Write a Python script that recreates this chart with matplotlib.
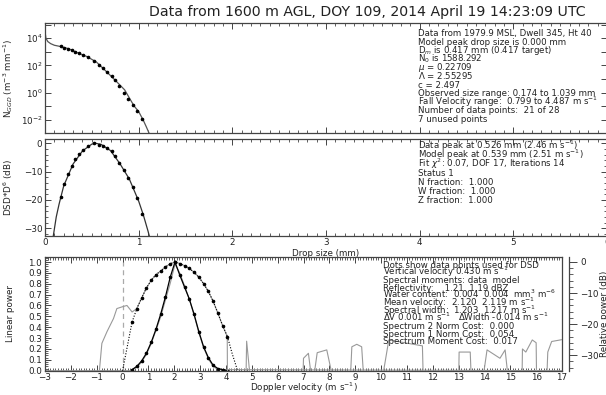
import numpy as np
import matplotlib
matplotlib.use("Agg")
import matplotlib.pyplot as plt
from matplotlib.ticker import MultipleLocator, FixedLocator, NullFormatter, FuncFormatter

# ---------------- data ----------------
# drop sizes (mm) of the data points used for the DSD fit
dsd_d = [0.174, 0.207, 0.249, 0.285, 0.321, 0.363, 0.410, 0.463, 0.526, 0.580,
         0.623, 0.666, 0.712, 0.748, 0.794, 0.844, 0.890, 0.937, 0.987, 1.039]
# log10 of the observed number concentration N(D)
dsd_logn = [3.39, 3.31, 3.24, 3.15, 3.02, 2.90, 2.76, 2.61, 2.34, 2.05,
            1.81, 1.49, 1.20, 0.91, 0.47, -0.01, -0.50, -0.94, -1.36, -1.96]
# DSD*D^6 of the data points (dB, normalised)
dsd_z_db = [-18.8, -14.5, -10.9, -8.0, -5.6, -3.9, -2.4, -0.9, 0.0, -0.6,
            -0.9, -1.8, -2.9, -4.5, -7.1, -9.6, -12.1, -15.3, -19.4, -25.1]

# fitted generalised-gamma model
model_d = [0.0, 0.01, 0.03, 0.06, 0.10, 0.17, 0.25, 0.35, 0.45, 0.55, 0.65,
           0.75, 0.85, 0.95, 1.00, 1.05, 1.08, 1.115]
model_logn = [4.48, 4.00, 3.75, 3.60, 3.48, 3.38, 3.23, 2.92, 2.64, 2.24, 1.58,
              0.90, 0.20, -0.98, -1.40, -2.05, -2.50, -3.05]
model_zd = [0.089, 0.12, 0.15, 0.20, 0.30, 0.40, 0.50, 0.539, 0.60, 0.70, 0.80,
            0.90, 1.00, 1.05, 1.10, 1.12]
model_z_db = [-32.6, -26.0, -21.5, -15.0, -7.3, -2.7, -0.3, 0.0, -0.4, -2.6, -7.2,
              -12.6, -20.4, -25.3, -31.0, -33.5]

# Doppler spectrum bins used for the DSD (m/s)
spec_v = [0.369, 0.553, 0.738, 0.922, 1.107, 1.291, 1.475, 1.660, 1.844, 2.029,
          2.213, 2.397, 2.582, 2.766, 2.951, 3.135, 3.320, 3.504, 3.688, 3.873, 4.057]
# model spectrum, linear power
spec_lin = [0.01, 0.04, 0.09, 0.16, 0.26, 0.38, 0.52, 0.68, 0.86, 1.00,
            0.88, 0.77, 0.66, 0.52, 0.36, 0.22, 0.12, 0.05, 0.02, 0.01, 0.00]
# model spectrum, relative power (dB)
spec_db = [-19.3, -15.0, -11.6, -8.4, -5.9, -4.1, -2.9, -1.6, -0.6, 0.0,
           -0.5, -1.2, -2.1, -3.3, -4.9, -7.0, -9.5, -12.6, -16.5, -20.5, -24.0]
tail_v_lo = [0.0, 0.369]
tail_db_lo = [-35.0, -19.3]
tail_v_hi = [4.057, 4.241, 4.45]
tail_db_hi = [-24.0, -29.5, -35.0]

# observed spectrum, relative power (dB); values under -35 dB fall below the axis
obs_v = [-0.95, -0.80, -0.60, -0.35, -0.22, 0.00, 0.17, 0.37, 0.55, 0.74, 0.92,
         1.11, 1.29, 1.48, 1.66, 1.84, 2.03, 2.21, 2.40, 2.58, 2.77, 2.95, 3.14,
         3.32, 3.50, 3.69, 3.87, 4.05, 4.06, 4.77, 4.80, 4.97, 6.97, 7.00, 7.19,
         7.35, 7.53, 7.90, 8.20, 8.80, 8.87, 9.06, 9.25, 9.35, 10.0, 10.3, 11.6,
         11.64, 13.0, 13.02, 13.45, 13.5, 13.9, 14.1, 14.6, 14.8, 14.95, 15.45,
         15.47, 15.6, 15.85, 16.0, 16.02, 16.4, 16.45, 16.6, 17.0]
obs_db = [-40, -26.2, -22.4, -18.2, -15.0, -14.4, -14.0, -16.1, -15.0, -11.6,
          -8.4, -5.9, -4.1, -2.9, -1.6, -0.6, 0.0, -0.5, -1.2, -2.1, -3.3, -4.9,
          -7.0, -9.5, -12.6, -16.5, -20.5, -24.0, -40, -40, -25.5, -40, -40, -31.0,
          -29.4, -40, -29.2, -28.3, -40, -40, -27.3, -26.5, -27.3, -40, -40, -25.1,
          -27.0, -40, -40, -29.0, -29.0, -40, -40, -28.3, -31.0, -28.3, -40, -40,
          -28.0, -29.0, -25.1, -26.0, -40, -40, -29.0, -25.6, -25.0]
# observed spectrum, linear power
obs_lin_v = [-3.0, 0.3, 0.55, 0.74, 0.92, 1.11, 1.29, 1.48, 1.66, 1.84, 2.03, 2.21,
             2.40, 2.58, 2.77, 2.95, 3.14, 3.32, 3.50, 3.69, 17.0]
obs_lin = [0.0, 0.0, 0.03, 0.08, 0.15, 0.25, 0.37, 0.50, 0.65, 0.80, 0.98, 0.90,
           0.78, 0.66, 0.51, 0.35, 0.21, 0.11, 0.04, 0.01, 0.0]

title = "Data from 1600 m AGL, DOY 109, 2014 April 19 14:23:09 UTC"
top_text = ["Data from 1979.9 MSL, Dwell 345, Ht 40",
            "Model peak drop size is 0.000 mm",
            r"D$_m$ is 0.417 mm (0.417 target)",
            r"N$_0$ is 1588.292",
            r"$\mu$ = 0.22709",
            r"$\Lambda$ = 2.55295",
            "c = 2.497",
            "Observed size range: 0.174 to 1.039 mm",
            r"Fall Velocity range:  0.799 to 4.487 m s$^{-1}$",
            "Number of data points:  21 of 28",
            "7 unused points"]
mid_text = [r"Data peak at 0.526 mm (2.46 m s$^{-1}$)",
            r"Model peak at 0.539 mm (2.51 m s$^{-1}$)",
            r"Fit $\chi^2$: 0.07, DOF 17, Iterations 14",
            "Status 1",
            "N fraction:  1.000",
            "W fraction:  1.000",
            "Z fraction:  1.000"]
bot_text = ["Dots show data points used for DSD",
            r"Vertical velocity 0.430 m s$^{-1}$",
            "Spectral moments: data  model",
            "Reflectivity:    1.21  1.19 dBZ",
            r"Water content:  0.004  0.004  mm$^3$ m$^{-6}$",
            r"Mean velocity:  2.120  2.119 m s$^{-1}$",
            r"Spectral width:  1.203  1.217 m s$^{-1}$",
            r"$\Delta$V 0.001 m s$^{-1}$   $\Delta$Width -0.014 m s$^{-1}$",
            "Spectrum 2 Norm Cost:  0.000",
            "Spectrum 1 Norm Cost:  0.054",
            "Spectrum Moment Cost:  0.017"]

# ---------------- figure ----------------
W, H = 606, 395
plt.rcParams["font.family"] = ["DejaVu Sans"]
plt.rcParams["mathtext.fontset"] = "dejavusans"
TXT = "#222222"
FRAME = "#444444"
fs_tick = 6.3
fs_ann = 6.2

fig = plt.figure(figsize=(W / 100, H / 100), dpi=100)


def px_axes(x0, y0, x1, y1):
    return fig.add_axes([x0 / W, 1 - y1 / H, (x1 - x0) / W, (y1 - y0) / H])


def style(ax):
    for s in ax.spines.values():
        s.set_color(FRAME)
        s.set_linewidth(0.9)
    ax.tick_params(which="both", direction="in", top=True, right=True,
                   colors=FRAME, labelcolor=TXT, labelsize=fs_tick, pad=2)
    ax.tick_params(which="major", length=4, width=0.7)
    ax.tick_params(which="minor", length=2, width=0.6)


ax1 = px_axes(45, 22.7, 607, 133.3)
ax2 = px_axes(45, 139.3, 607, 235.7)
ax3 = px_axes(45, 257, 562, 370.7)
for a in (ax1, ax2, ax3):
    style(a)

fig.text(0.5 + 64 / W, 1 - 12 / H, title, ha="center", va="center",
         fontsize=10.2, color=TXT)

# top: number concentration
ax1.set_yscale("log")
ax1.plot(model_d, [10 ** v for v in model_logn], color="#555555", lw=0.9)
ax1.plot(dsd_d, [10 ** v for v in dsd_logn], ls="none", marker="o", ms=1.6,
         color="black")
ax1.set_xlim(0, 6)
ax1.set_ylim(10 ** -3.0, 10 ** 5.14)
ax1.yaxis.set_major_locator(FixedLocator([10.0 ** k for k in range(-3, 6)]))
ax1.yaxis.set_minor_locator(FixedLocator([]))
ax1.yaxis.set_major_formatter(FuncFormatter(
    lambda v, p: (r"$10^{%d}$" % round(np.log10(v))) if round(np.log10(v)) % 2 == 0
    and round(np.log10(v)) < 5 else ""))
ax1.xaxis.set_major_locator(MultipleLocator(1))
ax1.xaxis.set_minor_locator(MultipleLocator(0.1))
ax1.xaxis.set_major_formatter(NullFormatter())
ax1.set_ylabel(r"N$_{GGD}$ (m$^{-3}$ mm$^{-1}$)", fontsize=fs_tick, color=TXT)
ax1.yaxis.set_label_coords((15 - 45) / 562, 0.5)

# middle: reflectivity-weighted DSD
ax2.plot(model_zd, model_z_db, color="#333333", lw=0.9)
ax2.plot(dsd_d, dsd_z_db, ls="none", marker="o", ms=1.6, color="black")
ax2.set_xlim(0, 6)
ax2.set_ylim(-32.6, 1.4)
ax2.yaxis.set_major_locator(MultipleLocator(10))
ax2.yaxis.set_minor_locator(MultipleLocator(2))
ax2.xaxis.set_major_locator(MultipleLocator(1))
ax2.xaxis.set_minor_locator(MultipleLocator(0.1))
ax2.set_xlabel("Drop size (mm)", fontsize=fs_tick, color=TXT, labelpad=1)
ax2.set_ylabel(r"DSD*D$^6$ (dB)", fontsize=fs_tick, color=TXT)
ax2.yaxis.set_label_coords((15 - 45) / 562, 0.5)

# bottom: Doppler spectrum
ax3.set_xlim(-3, 17)
ax3.set_ylim(0, 1.046)
ax3.vlines(0, 0, 1.0, colors="#aaaaaa", linestyles=(0, (4, 3)), lw=0.9)
ax3.plot(obs_lin_v, obs_lin, color="#999999", lw=0.8)
ax3.plot(spec_v, spec_lin, color="black", lw=0.9, marker="o", ms=1.6)
ax3.xaxis.set_major_locator(MultipleLocator(1))
ax3.xaxis.set_minor_locator(MultipleLocator(0.1))
ax3.yaxis.set_major_locator(MultipleLocator(0.1))
ax3.yaxis.set_minor_locator(MultipleLocator(0.02))
ax3.yaxis.set_major_formatter(FuncFormatter(lambda v, p: "%.1f" % v))
ax3.set_xlabel(r"Doppler velocity (m s$^{-1}$)", fontsize=fs_tick, color=TXT,
               labelpad=-1)
ax3.set_ylabel("Linear power", fontsize=fs_tick, color=TXT)
ax3.yaxis.set_label_coords((15 - 45) / 517, 0.5)

ax4 = ax3.twinx()
ax4.set_ylim(-35, 1.6)
ax4.plot(obs_v, obs_db, color="#999999", lw=0.8)
ax4.plot(tail_v_lo, tail_db_lo, color="black", lw=0.8, ls=(0, (1, 1.5)))
ax4.plot(tail_v_hi, tail_db_hi, color="black", lw=0.8, ls=(0, (1, 1.5)))
ax4.plot(spec_v, spec_db, color="black", lw=0.8, ls=(0, (1, 1.5)),
         marker="o", ms=1.6)
for s in ax4.spines.values():
    s.set_visible(False)
ax4.spines["right"].set_visible(True)
ax4.spines["right"].set_position(("outward", 5))
ax4.spines["right"].set_color(FRAME)
ax4.spines["right"].set_linewidth(0.9)
ax4.yaxis.set_major_locator(MultipleLocator(10))
ax4.yaxis.set_minor_locator(MultipleLocator(2))
ax4.tick_params(which="both", direction="out", colors=FRAME, labelcolor=TXT,
                labelsize=fs_tick, pad=2)
ax4.tick_params(which="major", length=6, width=0.7)
ax4.tick_params(which="minor", length=3, width=0.6)
ax4.set_ylabel("Relative power (dB)", fontsize=fs_tick, color=TXT)
ax4.yaxis.set_label_coords(1 + (600 - 562) / 517, 0.5)

# annotation blocks
for i, s in enumerate(top_text):
    fig.text(418 / W, 1 - (36.0 + 8.6 * i) / H, s, fontsize=fs_ann, color=TXT,
             ha="left", va="baseline")
for i, s in enumerate(mid_text):
    fig.text(418 / W, 1 - (149.0 + 9.0 * i) / H, s, fontsize=fs_ann, color=TXT,
             ha="left", va="baseline")
for i, s in enumerate(bot_text):
    fig.text(383 / W, 1 - (267.5 + 7.7 * i) / H, s, fontsize=fs_ann, color=TXT,
             ha="left", va="baseline")

fig.savefig("out.png", dpi=100)
